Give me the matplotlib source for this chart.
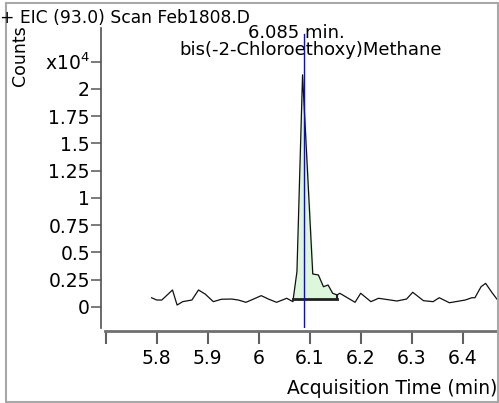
import matplotlib
matplotlib.use('Agg')
import matplotlib.pyplot as plt
from matplotlib.patches import Rectangle

plt.rcParams['font.family'] = ['DejaVu Sans']

# chromatogram trace, time in min, counts in units of 1e4
times = [5.790, 5.800, 5.810, 5.831, 5.840, 5.851, 5.869, 5.882, 5.895, 5.911,
         5.927, 5.947, 5.960, 5.975, 5.989, 6.005, 6.019, 6.035, 6.055, 6.067,
         6.075, 6.086, 6.106, 6.117, 6.127, 6.136, 6.145, 6.154, 6.159, 6.189,
         6.200, 6.220, 6.235, 6.248, 6.271, 6.290, 6.302, 6.323, 6.342, 6.354,
         6.374, 6.405, 6.418, 6.424, 6.436, 6.445, 6.457, 6.467]
counts = [0.085, 0.064, 0.064, 0.156, 0.018, 0.049, 0.064, 0.156, 0.119, 0.049,
          0.071, 0.073, 0.064, 0.043, 0.071, 0.104, 0.073, 0.043, 0.080, 0.049,
          0.324, 2.130, 0.303, 0.294, 0.186, 0.202, 0.126, 0.110, 0.126, 0.043,
          0.126, 0.049, 0.080, 0.071, 0.055, 0.073, 0.135, 0.058, 0.049, 0.085,
          0.039, 0.064, 0.085, 0.085, 0.186, 0.217, 0.135, 0.073]

peak_start = 6.067
peak_end = 6.154
peak_base = 0.073
rt = 6.089
rt_label = '6.085 min.'
compound = 'bis(-2-Chloroethoxy)Methane'
title = '+ EIC (93.0) Scan Feb1808.D'

xticks = [5.7, 5.8, 5.9, 6.0, 6.1, 6.2, 6.3, 6.4]
xticklabels = ['', '5.8', '5.9', '6', '6.1', '6.2', '6.3', '6.4']
yticks = [0, 0.25, 0.5, 0.75, 1, 1.25, 1.5, 1.75, 2, 2.25]
yticklabels = ['0', '0.25', '0.5', '0.75', '1', '1.25', '1.5', '1.75', '2', 'x10$^4$']

W, H = 499, 403
fig = plt.figure(figsize=(W / 100, H / 100), dpi=100)
ax = fig.add_axes([101 / W, (H - 328) / H, (499 - 101) / W, 300 / H])

ax.set_xlim(5.6908, 6.4712)
ax.set_ylim(-0.1927, 2.5596)

# integrated peak area
px = [t for t in times if peak_start <= t <= peak_end]
py = [c for t, c in zip(times, counts) if peak_start <= t <= peak_end]
ax.fill_between(px, py, peak_base, color='#dcf7dc', zorder=1)
ax.plot([peak_start, peak_end], [peak_base, peak_base], color='#202020', lw=2, zorder=3)
ax.plot([peak_end, peak_end], [peak_base, py[-1]], color='#202020', lw=1.5, zorder=3)

ax.plot(times, counts, color='#111111', lw=0.9, zorder=2)
ax.plot([rt, rt], [-0.1927, 2.50], color='#1010b0', lw=1, zorder=4)

ax.text(6.073, 2.515, rt_label, ha='center', va='center', fontsize=13)
ax.text(6.101, 2.355, compound, ha='center', va='center', fontsize=13)

for s in ['top', 'right']:
    ax.spines[s].set_visible(False)
ax.spines['left'].set_color('#505050')
ax.spines['left'].set_linewidth(1.2)
ax.spines['bottom'].set_color('#707070')
ax.spines['bottom'].set_linewidth(2)
ax.spines['bottom'].set_position(('outward', 2))
ax.spines['bottom'].set_bounds(5.699, 6.4712)

ax.set_xticks(xticks)
ax.set_xticklabels(xticklabels)
ax.set_yticks(yticks)
ax.set_yticklabels(yticklabels)
ax.tick_params(axis='x', direction='out', length=9, width=1.5, color='#606060',
               labelsize=13.5, pad=4)
ax.tick_params(axis='y', direction='out', length=7, width=1.3, color='#707070',
               labelsize=13.5, pad=1)

fig.text(497 / W, 1 - 388 / H, 'Acquisition Time (min)', ha='right', va='center', fontsize=13.5)
fig.text(20 / W, 1 - 56 / H, 'Counts', rotation=90, ha='center', va='center', fontsize=12.5)
fig.text(0, 1 - 18 / H, title, ha='left', va='center', fontsize=12.3)

fig.patches.append(Rectangle((6 / W, 1 / H), (498 - 6) / W, (401 - 2) / H,
                             transform=fig.transFigure, fill=False,
                             edgecolor='#a8a8a8', lw=1.5))

fig.savefig('out.png', dpi=100)
